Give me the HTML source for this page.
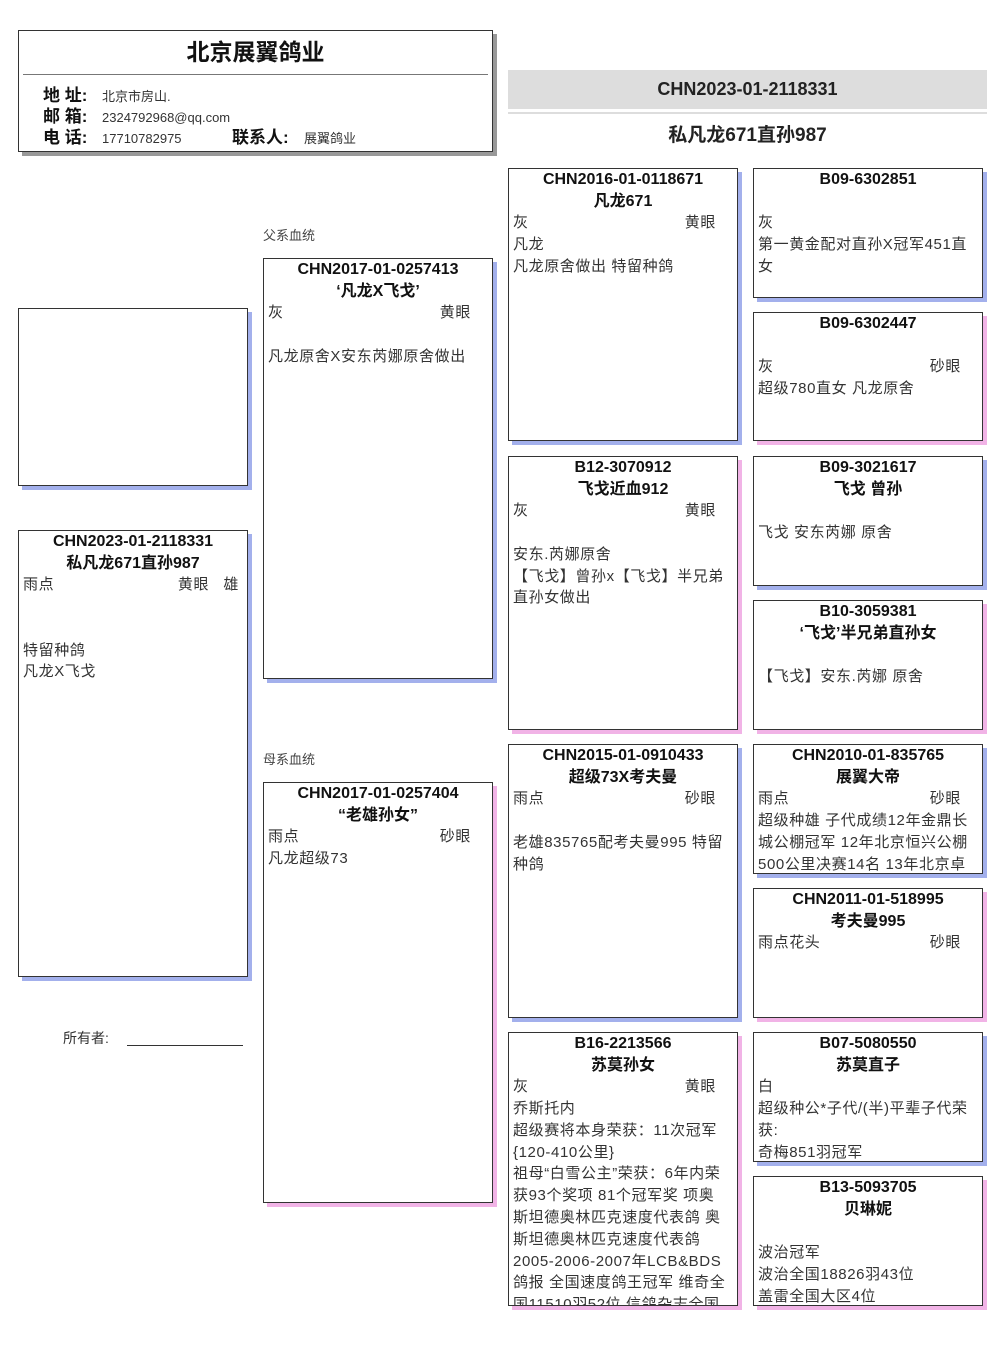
<!DOCTYPE html>
<html><head><meta charset="utf-8"><style>
*{margin:0;padding:0;box-sizing:border-box}
body{width:1006px;height:1366px;background:#fff;position:relative;font-family:"Liberation Sans","Noto Sans CJK SC",sans-serif;color:#222;overflow:hidden}
.a{position:absolute}
.b{position:absolute;border:1px solid #333;background:#fff;overflow:hidden;padding:0 4px;line-height:21.8px;font-size:15px}
.m{box-shadow:4px 4px 0 #a3b0ec}
.f{box-shadow:4px 4px 0 #f1b3e6}
.t{text-align:center;font-weight:bold;font-size:16px;color:#111;white-space:nowrap;line-height:21.6px}
.l{color:#333;white-space:nowrap;letter-spacing:0.6px}
.r{display:flex;justify-content:space-between;padding-right:17px;color:#333;letter-spacing:0.6px}
</style></head><body>
<div class="a" style="left:18px;top:30px;width:475px;height:122px;border:1px solid #333;box-shadow:4px 4px 0 #999;background:#fff">
 <div class="a" style="left:0;top:2px;width:100%;text-align:center;font-weight:bold;font-size:23px;color:#111">北京展翼鸽业</div>
 <div class="a" style="left:4px;top:43px;width:465px;border-top:1px solid #777"></div>
 <div class="a" style="left:24px;top:54px;font-weight:bold;font-size:17px;line-height:21px;color:#111">地 址:<br>邮 箱:<br>电 话:</div>
 <div class="a" style="left:83px;top:55px;font-size:13px;line-height:21px;color:#333">北京市房山.<br>2324792968@qq.com<br>17710782975</div>
 <div class="a" style="left:213px;top:96px;font-weight:bold;font-size:17px;line-height:21px;color:#111">联系人:</div>
 <div class="a" style="left:285px;top:97px;font-size:13px;line-height:21px;color:#333">展翼鸽业</div>
</div>
<div class="a" style="left:508px;top:70px;width:479px;height:39px;background:#ddd;text-align:center;line-height:39px;font-weight:bold;font-size:18px;color:#222">CHN2023-01-2118331</div>
<div class="a" style="left:508px;top:112px;width:479px;height:2px;background:#ddd"></div>
<div class="a" style="left:508px;top:120px;width:479px;text-align:center;font-weight:bold;font-size:19px;color:#222">私凡龙671直孙987</div>

<div class="b m" style="left:18px;top:308px;width:230px;height:178px"></div>
<div class="b m" style="left:18px;top:530px;width:230px;height:447px">
<div class="t">CHN2023-01-2118331</div><div class="t">私凡龙671直孙987</div>
<div class="r" style="padding-right:4px"><span>雨点</span><span>黄眼&nbsp;&nbsp;&nbsp;雄</span></div>
<div class="l">&nbsp;</div><div class="l">&nbsp;</div><div class="l">特留种鸽</div><div class="l">凡龙X飞戈</div>
</div>
<div class="a" style="left:63px;top:1028px;font-size:14px;color:#333">所有者:</div>
<div class="a" style="left:127px;top:1045px;width:116px;border-top:1px solid #333"></div>

<div class="a" style="left:263px;top:225px;font-size:13px;color:#444">父系血统</div>
<div class="b m" style="left:263px;top:258px;width:230px;height:421px">
<div class="t">CHN2017-01-0257413</div><div class="t">‘凡龙X飞戈’</div>
<div class="r"><span>灰</span><span>黄眼</span></div><div class="l">&nbsp;</div><div class="l">凡龙原舍X安东芮娜原舍做出</div>
</div>
<div class="a" style="left:263px;top:749px;font-size:13px;color:#444">母系血统</div>
<div class="b f" style="left:263px;top:782px;width:230px;height:421px">
<div class="t">CHN2017-01-0257404</div><div class="t">“老雄孙女”</div>
<div class="r"><span>雨点</span><span>砂眼</span></div><div class="l">凡龙超级73</div>
</div>

<div class="b m" style="left:508px;top:168px;width:230px;height:273px">
<div class="t">CHN2016-01-0118671</div><div class="t">凡龙671</div>
<div class="r"><span>灰</span><span>黄眼</span></div><div class="l">凡龙</div><div class="l">凡龙原舍做出 特留种鸽</div>
</div>
<div class="b f" style="left:508px;top:456px;width:230px;height:274px">
<div class="t">B12-3070912</div><div class="t">飞戈近血912</div>
<div class="r"><span>灰</span><span>黄眼</span></div><div class="l">&nbsp;</div><div class="l">安东.芮娜原舍</div><div class="l">【飞戈】曾孙x【飞戈】半兄弟</div><div class="l">直孙女做出</div>
</div>
<div class="b m" style="left:508px;top:744px;width:230px;height:274px">
<div class="t">CHN2015-01-0910433</div><div class="t">超级73X考夫曼</div>
<div class="r"><span>雨点</span><span>砂眼</span></div><div class="l">&nbsp;</div><div class="l">老雄835765配考夫曼995 特留</div><div class="l">种鸽</div>
</div>
<div class="b f" style="left:508px;top:1032px;width:230px;height:274px">
<div class="t">B16-2213566</div><div class="t">苏莫孙女</div>
<div class="r"><span>灰</span><span>黄眼</span></div><div class="l">乔斯托内</div>
<div class="l">超级赛将本身荣获：11次冠军</div>
<div class="l">{120-410公里}</div>
<div class="l">祖母“白雪公主”荣获：6年内荣</div>
<div class="l">获93个奖项 81个冠军奖 项奥</div>
<div class="l">斯坦德奥林匹克速度代表鸽 奥</div>
<div class="l">斯坦德奥林匹克速度代表鸽</div>
<div class="l">2005-2006-2007年LCB&amp;BDS</div>
<div class="l">鸽报 全国速度鸽王冠军 维奇全</div>
<div class="l">国11510羽52位 信鸽杂志全国</div>
</div>

<div class="b m" style="left:753px;top:168px;width:230px;height:130px">
<div class="t">B09-6302851</div><div class="l">&nbsp;</div><div class="l">灰</div><div class="l">第一黄金配对直孙X冠军451直</div><div class="l">女</div>
</div>
<div class="b f" style="left:753px;top:312px;width:230px;height:129px">
<div class="t">B09-6302447</div><div class="l">&nbsp;</div><div class="r"><span>灰</span><span>砂眼</span></div><div class="l">超级780直女 凡龙原舍</div>
</div>
<div class="b m" style="left:753px;top:456px;width:230px;height:130px">
<div class="t">B09-3021617</div><div class="t">飞戈 曾孙</div><div class="l">&nbsp;</div><div class="l">飞戈 安东芮娜 原舍</div>
</div>
<div class="b f" style="left:753px;top:600px;width:230px;height:130px">
<div class="t">B10-3059381</div><div class="t">‘飞戈’半兄弟直孙女</div><div class="l">&nbsp;</div><div class="l">【飞戈】安东.芮娜 原舍</div>
</div>
<div class="b m" style="left:753px;top:744px;width:230px;height:130px">
<div class="t">CHN2010-01-835765</div><div class="t">展翼大帝</div>
<div class="r"><span>雨点</span><span>砂眼</span></div><div class="l">超级种雄 子代成绩12年金鼎长</div><div class="l">城公棚冠军 12年北京恒兴公棚</div><div class="l">500公里决赛14名 13年北京卓</div>
</div>
<div class="b f" style="left:753px;top:888px;width:230px;height:130px">
<div class="t">CHN2011-01-518995</div><div class="t">考夫曼995</div>
<div class="r"><span>雨点花头</span><span>砂眼</span></div>
</div>
<div class="b m" style="left:753px;top:1032px;width:230px;height:130px">
<div class="t">B07-5080550</div><div class="t">苏莫直子</div><div class="l">白</div><div class="l">超级种公*子代/(半)平辈子代荣</div><div class="l">获:</div><div class="l">奇梅851羽冠军</div>
</div>
<div class="b f" style="left:753px;top:1176px;width:230px;height:130px">
<div class="t">B13-5093705</div><div class="t">贝琳妮</div><div class="l">&nbsp;</div><div class="l">波治冠军</div><div class="l">波治全国18826羽43位</div><div class="l">盖雷全国大区4位</div>
</div>
</body></html>
